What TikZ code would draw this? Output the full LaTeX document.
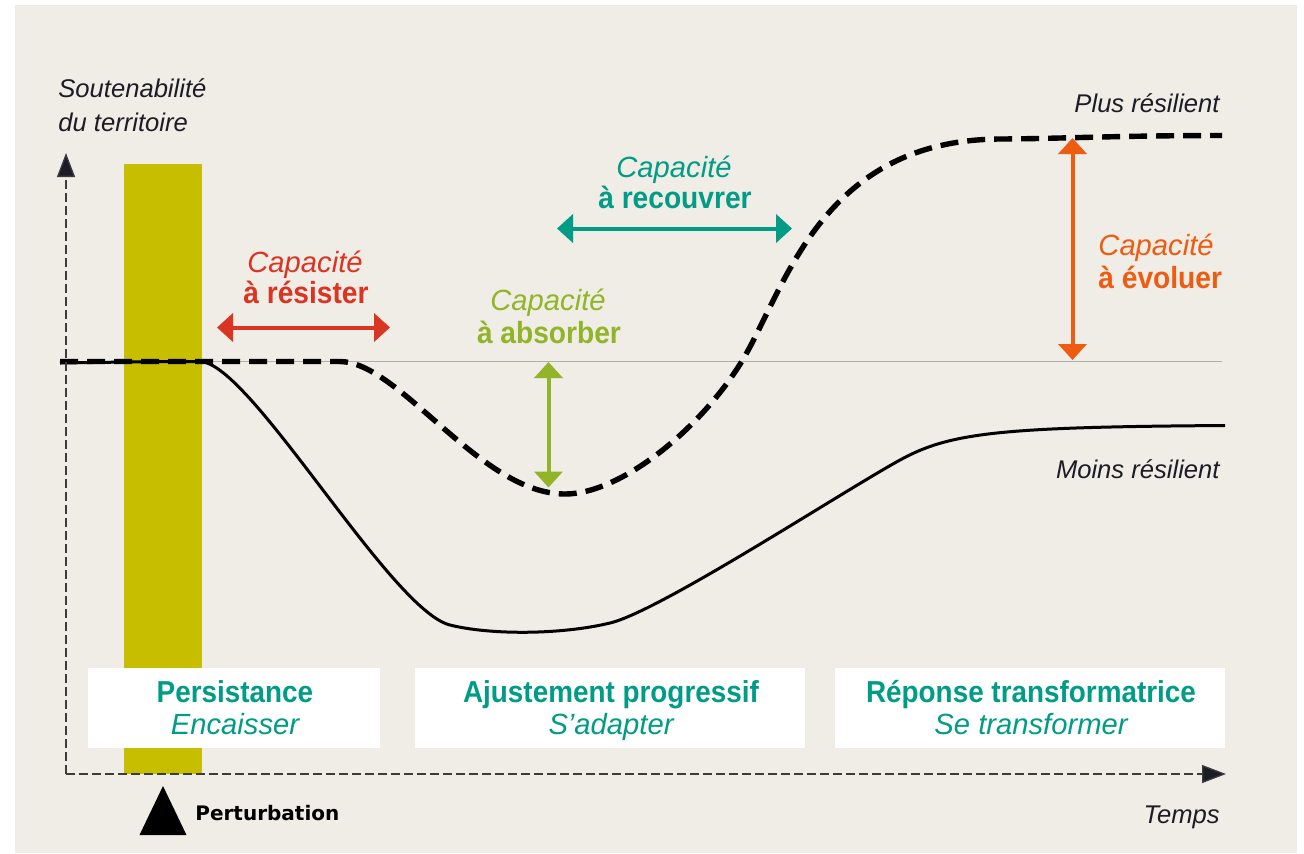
\documentclass[tikz,border=0pt]{standalone}
\usepackage{fontspec}
\setmainfont{Liberation Sans}
\newfontfamily\condfont{Liberation Sans}[FakeStretch=0.92]
\newfontfamily\pertfont{DejaVu Sans}
\usetikzlibrary{arrows.meta}
\definecolor{bgbeige}{RGB}{240,236,230}
\definecolor{baryellow}{RGB}{200,190,0}
\definecolor{cred}{RGB}{218,52,34}
\definecolor{cteal}{RGB}{0,156,134}
\definecolor{cgreen}{RGB}{145,180,40}
\definecolor{corange}{RGB}{238,92,18}
\definecolor{cdark}{RGB}{28,28,38}
\definecolor{caxis}{RGB}{60,60,60}
\definecolor{cref}{RGB}{180,174,168}
\tikzset{
  lbl/.style={font=\fontsize{12.8}{14}\selectfont\itshape, text=cdark, inner sep=0pt, anchor=base east},
  capit/.style={font=\fontsize{14.6}{16}\selectfont\itshape, inner sep=0pt, anchor=base},
  capbf/.style={font=\condfont\fontsize{15.3}{17}\selectfont\bfseries, inner sep=0pt, anchor=base},
  boxtitle/.style={font=\condfont\fontsize{15.15}{17}\selectfont\bfseries, text=cteal, inner sep=0pt, anchor=base},
  boxsub/.style={font=\fontsize{14.6}{16}\selectfont\itshape, text=cteal, inner sep=0pt, anchor=base},
  phasebox/.style={fill=white, draw=none, inner sep=0pt, minimum height=40pt},
  axisline/.style={draw=caxis, line width=0.65pt, dash pattern=on 4.5pt off 2pt, -{Triangle[length=12pt,width=9pt,fill=cdark]}},
  caparrow/.style={line width=2pt, {Triangle[length=8pt,width=14pt]}-{Triangle[length=8pt,width=14pt]}},
  dashcurve/.style={line width=2.7pt, dash pattern=on 9pt off 4.5pt, black},
  solidcurve/.style={line width=1.5pt, black, line join=round},
}
\begin{document}
\begin{tikzpicture}[x=0.5pt,y=-0.5pt]
\useasboundingbox (0,0) rectangle (1304,853);
\fill[white] (0,0) rectangle (1304,853);
\fill[bgbeige] (15,5) rectangle (1297,853);

% perturbation bar
\fill[baryellow] (124,164) rectangle (201.5,774);

% reference level
\coordinate (refL) at (60,361.5);
\coordinate (refR) at (1222,361.5);
\draw[cref, line width=0.6pt] (refL) -- (refR);

% less resilient trajectory
\draw[solidcurve] (60,363) .. controls (120,362) and (170,361.5) .. (200,361.5)
  .. controls (250,362) and (390,610) .. (450,625)
  .. controls (490,635) and (560,635) .. (610,623)
  .. controls (660,611) and (840,493) .. (900,460)
  .. controls (950,432.5) and (1000,427) .. (1225,425.5);

% more resilient trajectory
\draw[dashcurve] (60,361.5) -- (340,361.5)
  .. controls (400,362) and (480,494) .. (565,494)
  .. controls (620,494) and (700,430) .. (742,361)
  .. controls (785,290) and (820,140) .. (1000,139)
  .. controls (1060,138.7) and (1120,135.5) .. (1222,135.5);

% phase boxes
\node[phasebox, minimum width=146pt] (b1) at (234,708) {};
\node[phasebox, minimum width=195pt] (b2) at (610,708) {};
\node[phasebox, minimum width=195pt] (b3) at (1030,708) {};
\node[boxtitle] (t1) at (235,702) {Persistance};
\node[boxsub] (s1) at (235,734) {Encaisser};
\node[boxtitle] (t2) at (611,702) {Ajustement progressif};
\node[boxsub] (s2) at (611,734) {S’adapter};
\node[boxtitle] (t3) at (1031,702) {Réponse transformatrice};
\node[boxsub] (s3) at (1031,734) {Se transformer};

% axes
\coordinate (O) at (66,774);
\coordinate (ytip) at (66,153);
\coordinate (xtip) at (1226,774);
\draw[axisline] (O) -- (ytip);
\draw[axisline] (O) -- (xtip);

\node[lbl, anchor=base west] (ya1) at (58,97) {Soutenabilité};
\node[lbl, anchor=base west] (ya2) at (58,131) {du territoire};
\node[lbl] (xa) at (1220,823) {Temps};
\node[lbl] (plus) at (1220,112) {Plus résilient};
\node[lbl] (moins) at (1220,478) {Moins résilient};

% perturbation marker
\fill[black] (163,786) -- (186.5,835) -- (139.5,835) -- cycle;
\node[font=\pertfont\fontsize{10}{12}\selectfont\bfseries, text=black, inner sep=0pt, anchor=base west] (pert) at (195,820) {Perturbation};

% capacity: resist
\coordinate (rL) at (217,327.5);
\coordinate (rR) at (390,327.5);
\draw[caparrow, cred] (rL) -- (rR);
\node[capit, text=cred] (cr1) at (305,272) {Capacité};
\node[capbf, text=cred] (cr2) at (306,303) {à résister};

% capacity: absorb
\coordinate (gT) at (548.5,362);
\coordinate (gB) at (548.5,487.5);
\draw[caparrow, cgreen] (gT) -- (gB);
\node[capit, text=cgreen] (cg1) at (548,310) {Capacité};
\node[capbf, text=cgreen] (cg2) at (549,343) {à absorber};

% capacity: recover
\coordinate (tL) at (557,228.5);
\coordinate (tR) at (792,228.5);
\draw[caparrow, cteal] (tL) -- (tR);
\node[capit, text=cteal] (ct1) at (674,177) {Capacité};
\node[capbf, text=cteal] (ct2) at (675,208) {à recouvrer};

% capacity: evolve
\coordinate (oT) at (1072.5,138);
\coordinate (oB) at (1072.5,360);
\draw[caparrow, corange] (oT) -- (oB);
\node[capit, text=corange, anchor=base west] (co1) at (1098,255) {Capacité};
\node[capbf, text=corange, anchor=base west] (co2) at (1098,288) {à évoluer};
\end{tikzpicture}
\end{document}
